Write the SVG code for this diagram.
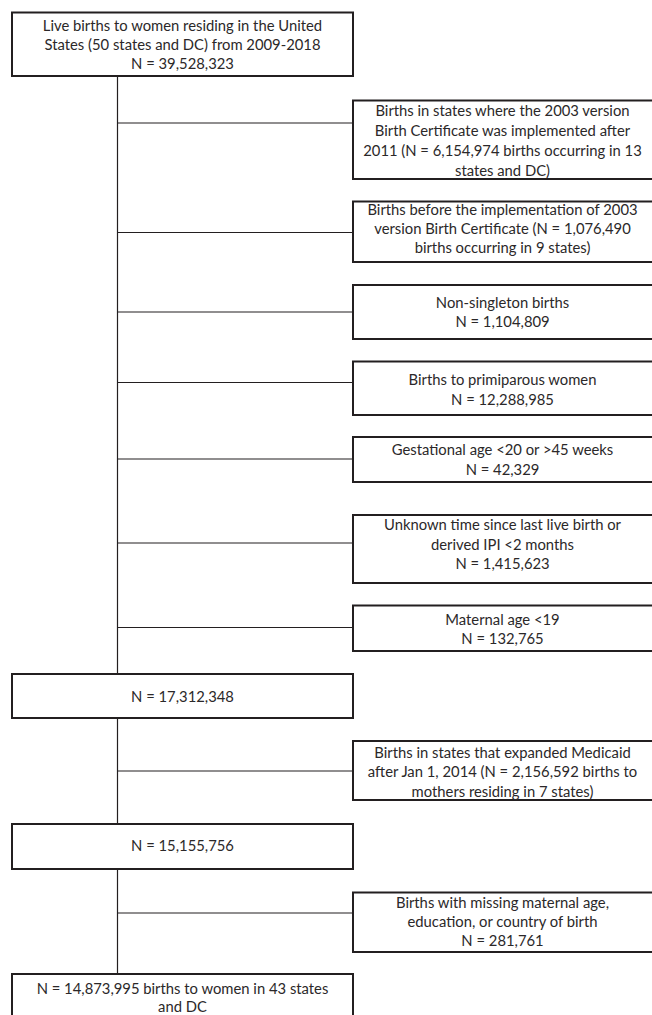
<svg xmlns="http://www.w3.org/2000/svg" width="652" height="1015" viewBox="0 0 652 1015">
<style>
.box{fill:#fff;stroke:#231f20;stroke-width:2}
.ln{stroke:#231f20;stroke-width:1.2;fill:none}
text{font-family:Lato,"Liberation Sans",sans-serif;font-size:14.8px;fill:#2b2829;text-anchor:middle}
</style>
<rect width="652" height="1015" fill="#fff"/>
<g id="connectors">
<path class="ln" d="M117.5 76V674M117.5 718V824M117.5 869V974"/>
<path class="ln" d="M117.5 123H353M117.5 232.5H353M117.5 312H353M117.5 382.5H353M117.5 459H353M117.5 543H353M117.5 627.5H353M117.5 771H353M117.5 913H353"/>
</g>
<g id="start"><rect class="box" x="12" y="12.5" width="341" height="63.5"/>
<text x="182.5" y="31">Live births to women residing in the United</text>
<text x="182.5" y="50">States (50 states and DC) from 2009-2018</text>
<text x="182.5" y="69">N = 39,528,323</text></g>
<g id="ex1"><rect class="box" x="353" y="100.5" width="300" height="78.5"/>
<text x="502.5" y="116">Births in states where the 2003 version</text>
<text x="502.5" y="136">Birth Certificate was implemented after</text>
<text x="502.5" y="156">2011 (N = 6,154,974 births occurring in 13</text>
<text x="502.5" y="176">states and DC)</text></g>
<g id="ex2"><rect class="box" x="353" y="201.5" width="300" height="60.5"/>
<text x="502.5" y="215">Births before the implementation of 2003</text>
<text x="502.5" y="234">version Birth Certificate (N = 1,076,490</text>
<text x="502.5" y="253">births occurring in 9 states)</text></g>
<g id="ex3"><rect class="box" x="353" y="285" width="300" height="54"/>
<text x="502.5" y="307.5">Non-singleton births</text>
<text x="502.5" y="327">N = 1,104,809</text></g>
<g id="ex4"><rect class="box" x="353" y="361.5" width="300" height="53.5"/>
<text x="502.5" y="385">Births to primiparous women</text>
<text x="502.5" y="405">N = 12,288,985</text></g>
<g id="ex5"><rect class="box" x="353" y="437" width="300" height="45"/>
<text x="502.5" y="455">Gestational age &lt;20 or &gt;45 weeks</text>
<text x="502.5" y="474.5">N = 42,329</text></g>
<g id="ex6"><rect class="box" x="353" y="515" width="300" height="68"/>
<text x="502.5" y="530">Unknown time since last live birth or</text>
<text x="502.5" y="549.5">derived IPI &lt;2 months</text>
<text x="502.5" y="569">N = 1,415,623</text></g>
<g id="ex7"><rect class="box" x="353" y="605.5" width="300" height="45.5"/>
<text x="502.5" y="625">Maternal age &lt;19</text>
<text x="502.5" y="644">N = 132,765</text></g>
<g id="n17"><rect class="box" x="12" y="674" width="341" height="44"/>
<text x="182.5" y="701.5">N = 17,312,348</text></g>
<g id="ex8"><rect class="box" x="353" y="741" width="300" height="59"/>
<text x="502.5" y="757.5">Births in states that expanded Medicaid</text>
<text x="502.5" y="777">after Jan 1, 2014 (N = 2,156,592 births to</text>
<text x="502.5" y="796.5">mothers residing in 7 states)</text></g>
<g id="n15"><rect class="box" x="12" y="824" width="341" height="45"/>
<text x="182.5" y="851">N = 15,155,756</text></g>
<g id="ex9"><rect class="box" x="353" y="892.5" width="300" height="59.5"/>
<text x="502.5" y="908">Births with missing maternal age,</text>
<text x="502.5" y="927">education, or country of birth</text>
<text x="502.5" y="946">N = 281,761</text></g>
<g id="final"><rect class="box" x="12" y="974" width="341" height="45"/>
<text x="182.5" y="994">N = 14,873,995 births to women in 43 states</text>
<text x="182.5" y="1012">and DC</text></g>
</svg>
